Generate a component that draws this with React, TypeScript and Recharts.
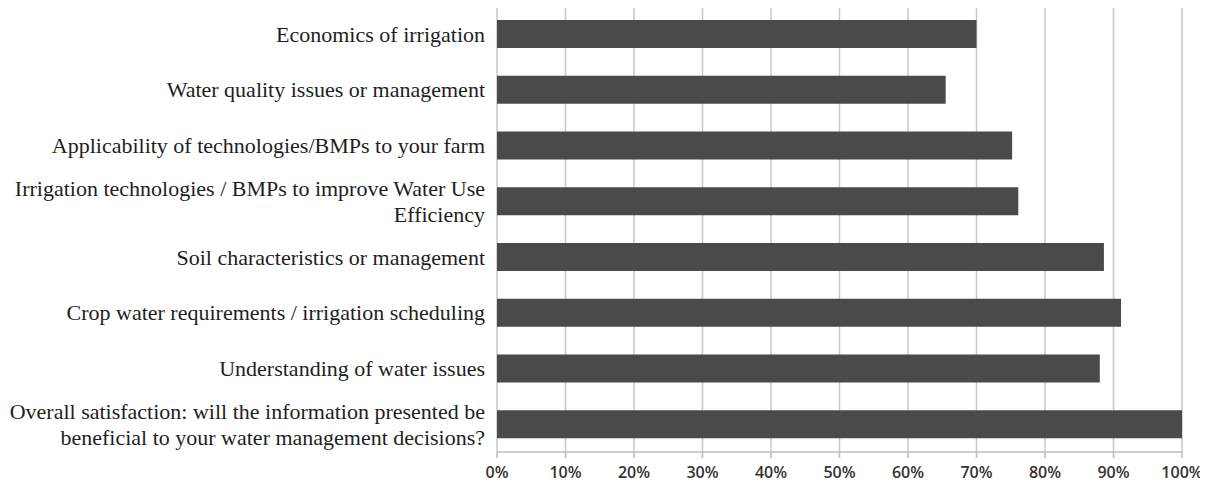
import { BarChart, Bar, XAxis, YAxis, CartesianGrid } from "recharts"

const TOPICS = [
  "Economics of irrigation",
  "Water quality issues or management",
  "Applicability of technologies/BMPs to your farm",
  "Irrigation technologies / BMPs to improve Water Use\nEfficiency",
  "Soil characteristics or management",
  "Crop water requirements / irrigation scheduling",
  "Understanding of water issues",
  "Overall satisfaction: will the information presented be\nbeneficial to your water management decisions?",
]

const SHARE = [0.7, 0.655, 0.752, 0.761, 0.886, 0.911, 0.88, 1.0]

const PCT_TICKS = [0, 0.1, 0.2, 0.3, 0.4, 0.5, 0.6, 0.7, 0.8, 0.9, 1.0]

const rows = TOPICS.map((topic, i) => ({ topic, share: SHARE[i] }))

function TopicTick(props: any) {
  const { x, y, payload } = props
  const lines = String(payload.value).split("\n")
  const gap = 26
  const start = y - ((lines.length - 1) * gap) / 2
  return (
    <text
      x={x}
      y={start}
      textAnchor="end"
      fill="#1e1e1e"
      fontFamily="'Liberation Serif', serif"
      fontSize={22}
    >
      {lines.map((line, i) => (
        <tspan key={i} x={x} y={start + i * gap} dy="0.35em">
          {line}
        </tspan>
      ))}
    </text>
  )
}

export default function App() {
  return (
    <div style={{ margin: -8, background: "#fff", width: 1208, height: 487 }}>
      <BarChart
        width={1208}
        height={487}
        data={rows}
        layout="vertical"
        margin={{ top: 6, right: 26, bottom: 0, left: 0 }}
        barCategoryGap="25%"
      >
        <CartesianGrid horizontal={false} stroke="#c8c8c8" strokeWidth={1.5} />
        <XAxis
          type="number"
          domain={[0, 1]}
          ticks={PCT_TICKS}
          tickFormatter={(v: number) => `${Math.round(v * 100)}%`}
          stroke="#bdbdbd"
          strokeWidth={1.5}
          tickSize={6}
          tickMargin={9}
          tick={{ fill: "#333", fontSize: 16, fontWeight: 600, fontFamily: "'Open Sans', sans-serif" }}
          height={35}
        />
        <YAxis
          type="category"
          dataKey="topic"
          width={497}
          axisLine={false}
          tickLine={false}
          tickSize={0}
          tickMargin={12}
          interval={0}
          tick={<TopicTick />}
        />
        <Bar dataKey="share" fill="#4a4a4a" isAnimationActive={false} />
      </BarChart>
    </div>
  )
}
